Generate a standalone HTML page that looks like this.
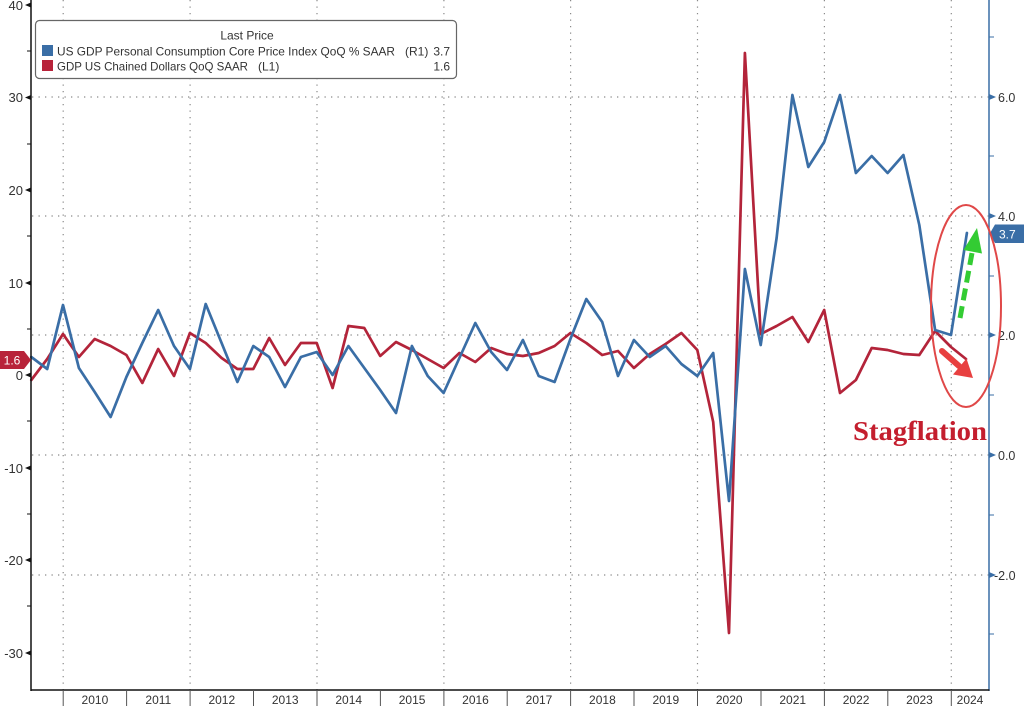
<!DOCTYPE html>
<html>
<head>
<meta charset="utf-8">
<style>
  html,body{margin:0;padding:0;background:#ffffff;}
  svg{display:block;}
  text{font-family:"Liberation Sans",sans-serif;}
</style>
</head>
<body>
<svg width="1024" height="706" viewBox="0 0 1024 706" xmlns="http://www.w3.org/2000/svg">
  <rect x="0" y="0" width="1024" height="706" fill="#ffffff"/>

  <!-- vertical dotted gridlines -->
  <g stroke="#8a8a8a" stroke-width="1.2" stroke-dasharray="1.3 5.2" fill="none">
    <line x1="63.2" y1="0" x2="63.2" y2="690"/>
    <line x1="190.1" y1="0" x2="190.1" y2="690"/>
    <line x1="317" y1="0" x2="317" y2="690"/>
    <line x1="443.9" y1="0" x2="443.9" y2="690"/>
    <line x1="570.6" y1="0" x2="570.6" y2="690"/>
    <line x1="697.5" y1="0" x2="697.5" y2="690"/>
    <line x1="824.4" y1="0" x2="824.4" y2="690"/>
    <line x1="951.3" y1="0" x2="951.3" y2="690"/>
  </g>
  <!-- horizontal dotted gridlines (right axis) -->
  <g stroke="#8a8a8a" stroke-width="1.2" stroke-dasharray="1.3 5.2" fill="none">
    <line x1="32" y1="97" x2="989" y2="97"/>
    <line x1="32" y1="216" x2="989" y2="216"/>
    <line x1="32" y1="335" x2="989" y2="335"/>
    <line x1="32" y1="455" x2="989" y2="455"/>
    <line x1="32" y1="575" x2="989" y2="575"/>
  </g>

  <!-- Red series: GDP -->
  <polyline fill="none" stroke="#b3243a" stroke-width="2.7" stroke-linejoin="round" stroke-linecap="round"
    points="31.3,380 47.2,359 63.0,334 78.9,357 94.7,339 110.6,346 126.4,355 142.3,383 158.2,349 174.0,376 189.9,333 205.7,343 221.6,358 237.4,369 253.3,369 269.2,338 285.0,365 300.9,343 316.7,343 332.6,388 348.4,326 364.3,328 380.2,356 396.0,342 411.9,350 427.7,359 443.6,368 459.4,353 475.3,362 491.2,348 507.0,354 522.9,356 538.7,353 554.6,346 570.4,333 586.3,343 602.2,355 618.0,351 633.9,368 649.7,354 665.6,344 681.4,333 697.3,350 713.2,422 729.0,633 744.9,53 760.7,334 776.6,326 792.4,317 808.3,342 824.2,310 840.0,393 855.9,380 871.7,348 887.6,350 903.4,354 919.3,355 935.1,331 951.0,347 966.0,359"/>

  <!-- Blue series: Core PCE -->
  <polyline fill="none" stroke="#3a6ea6" stroke-width="2.7" stroke-linejoin="round" stroke-linecap="round"
    points="31.3,357 47.2,369 63.0,305 78.9,368 94.7,392 110.6,417 126.4,377 142.3,343 158.2,310 174.0,346 189.9,369 205.7,304 221.6,343 237.4,382 253.3,346 269.2,357 285.0,387 300.9,357 316.7,352 332.6,375 348.4,346 364.3,368 380.2,390 396.0,413 411.9,346 427.7,376 443.6,393 459.4,358 475.3,323 491.2,352 507.0,370 522.9,340 538.7,376 554.6,382 570.4,339 586.3,299 602.2,322 618.0,376 633.9,340 649.7,357 665.6,346 681.4,364 697.3,376 713.2,353 729.0,501 744.9,269 760.7,345 776.6,238 792.4,95 808.3,167 824.2,142 840.0,95 855.9,173 871.7,156 887.6,173 903.4,155 919.3,225 935.1,330 951.0,335 966.9,233"/>

  <!-- Left axis -->
  <line x1="31" y1="0" x2="31" y2="691" stroke="#111" stroke-width="1.5"/>
  <g fill="#111">
    <polygon points="31,2.5 31,7.5 25,5"/>
    <polygon points="31,95 31,100 25,97.5"/>
    <polygon points="31,187.5 31,192.5 25,190"/>
    <polygon points="31,280.5 31,285.5 25,283"/>
    <polygon points="31,372.5 31,377.5 25,375"/>
    <polygon points="31,465.5 31,470.5 25,468"/>
    <polygon points="31,557.5 31,562.5 25,560"/>
    <polygon points="31,650.5 31,655.5 25,653"/>
  </g>
  <g stroke="#111" stroke-width="1">
    <line x1="27" y1="51" x2="31" y2="51"/>
    <line x1="27" y1="144" x2="31" y2="144"/>
    <line x1="27" y1="236" x2="31" y2="236"/>
    <line x1="27" y1="329" x2="31" y2="329"/>
    <line x1="27" y1="421" x2="31" y2="421"/>
    <line x1="27" y1="514" x2="31" y2="514"/>
    <line x1="27" y1="606" x2="31" y2="606"/>
  </g>
  <g font-size="13" fill="#333" text-anchor="end">
    <text x="23" y="10">40</text>
    <text x="23" y="102">30</text>
    <text x="23" y="195">20</text>
    <text x="23" y="288">10</text>
    <text x="23" y="380">0</text>
    <text x="23" y="473">-10</text>
    <text x="23" y="565">-20</text>
    <text x="23" y="658">-30</text>
  </g>

  <!-- Right axis -->
  <line x1="989" y1="0" x2="989" y2="691" stroke="#3a6ea6" stroke-width="1.5"/>
  <g fill="#3a6ea6">
    <polygon points="989,94 989,100 996,97"/>
    <polygon points="989,213 989,219 996,216"/>
    <polygon points="989,332 989,338 996,335"/>
    <polygon points="989,452 989,458 996,455"/>
    <polygon points="989,572 989,578 996,575"/>
  </g>
  <g stroke="#3a6ea6" stroke-width="1">
    <line x1="989" y1="37" x2="994" y2="37"/>
    <line x1="989" y1="156" x2="994" y2="156"/>
    <line x1="989" y1="276" x2="994" y2="276"/>
    <line x1="989" y1="395" x2="994" y2="395"/>
    <line x1="989" y1="515" x2="994" y2="515"/>
    <line x1="989" y1="634" x2="994" y2="634"/>
  </g>
  <g font-size="12.5" fill="#333">
    <text x="998" y="102">6.0</text>
    <text x="998" y="221">4.0</text>
    <text x="998" y="340">2.0</text>
    <text x="998" y="460">0.0</text>
    <text x="994" y="580">-2.0</text>
  </g>

  <!-- Bottom axis -->
  <line x1="31" y1="690" x2="989.5" y2="690" stroke="#111" stroke-width="1.5"/>
  <g stroke="#555" stroke-width="1">
    <line x1="63.2" y1="690" x2="63.2" y2="706"/>
    <line x1="126.6" y1="690" x2="126.6" y2="706"/>
    <line x1="190.1" y1="690" x2="190.1" y2="706"/>
    <line x1="253.5" y1="690" x2="253.5" y2="706"/>
    <line x1="317" y1="690" x2="317" y2="706"/>
    <line x1="380.4" y1="690" x2="380.4" y2="706"/>
    <line x1="443.9" y1="690" x2="443.9" y2="706"/>
    <line x1="507.2" y1="690" x2="507.2" y2="706"/>
    <line x1="570.6" y1="690" x2="570.6" y2="706"/>
    <line x1="634" y1="690" x2="634" y2="706"/>
    <line x1="697.5" y1="690" x2="697.5" y2="706"/>
    <line x1="761" y1="690" x2="761" y2="706"/>
    <line x1="824.4" y1="690" x2="824.4" y2="706"/>
    <line x1="887.8" y1="690" x2="887.8" y2="706"/>
    <line x1="951.3" y1="690" x2="951.3" y2="706"/>
  </g>
  <g font-size="12" fill="#333" text-anchor="middle">
    <text x="94.9" y="704">2010</text>
    <text x="158.3" y="704">2011</text>
    <text x="221.8" y="704">2012</text>
    <text x="285.2" y="704">2013</text>
    <text x="348.7" y="704">2014</text>
    <text x="412.1" y="704">2015</text>
    <text x="475.5" y="704">2016</text>
    <text x="539" y="704">2017</text>
    <text x="602.4" y="704">2018</text>
    <text x="665.8" y="704">2019</text>
    <text x="729.2" y="704">2020</text>
    <text x="792.7" y="704">2021</text>
    <text x="856.1" y="704">2022</text>
    <text x="919.5" y="704">2023</text>
    <text x="970" y="704">2024</text>
  </g>

  <!-- Last value tags -->
  <polygon points="0,351 24,351 31,360 24,369 0,369" fill="#b8233a"/>
  <text x="12" y="364.5" font-size="12" fill="#ffffff" text-anchor="middle">1.6</text>
  <polygon points="989.5,234 995,224.5 1024,224.5 1024,243 995,243" fill="#3a6ea6"/>
  <text x="999" y="238.5" font-size="12" fill="#ffffff">3.7</text>

  <!-- Legend -->
  <rect x="35.5" y="20.5" width="421" height="58" rx="4" ry="4" fill="#ffffff" stroke="#666" stroke-width="1.2"/>
  <text x="247" y="39.5" font-size="12" fill="#333" text-anchor="middle">Last Price</text>
  <rect x="42" y="45" width="11" height="11" fill="#3a6ea6"/>
  <rect x="42" y="60" width="11" height="11" fill="#b8233a"/>
  <text x="57" y="55.5" font-size="12" fill="#333" textLength="338" lengthAdjust="spacingAndGlyphs">US GDP Personal Consumption Core Price Index QoQ % SAAR</text>
  <text x="405" y="55.5" font-size="12" fill="#333">(R1)</text>
  <text x="450" y="55.5" font-size="12" fill="#333" text-anchor="end">3.7</text>
  <text x="57" y="70.5" font-size="12" fill="#333" textLength="191" lengthAdjust="spacingAndGlyphs">GDP US Chained Dollars QoQ SAAR</text>
  <text x="258" y="70.5" font-size="12" fill="#333">(L1)</text>
  <text x="450" y="70.5" font-size="12" fill="#333" text-anchor="end">1.6</text>

  <!-- Annotations -->
  <ellipse cx="966" cy="306" rx="35" ry="101" fill="none" stroke="#e04848" stroke-width="2"/>
  <line x1="960" y1="318" x2="972" y2="253" stroke="#33cc33" stroke-width="5" stroke-dasharray="12 6"/>
  <polygon points="977,228 982,253.5 963.5,250" fill="#33cc33"/>
  <line x1="942" y1="351" x2="959" y2="366" stroke="#e84040" stroke-width="6" stroke-linecap="round"/>
  <polygon points="973,378 953,374.5 966.5,358.5" fill="#e84040"/>
  <text x="853" y="440" style="font-family:'Liberation Serif','DejaVu Serif',serif;font-weight:bold;font-size:27px;" fill="#c41e2e" textLength="134" lengthAdjust="spacingAndGlyphs">Stagflation</text>
</svg>
</body>
</html>
